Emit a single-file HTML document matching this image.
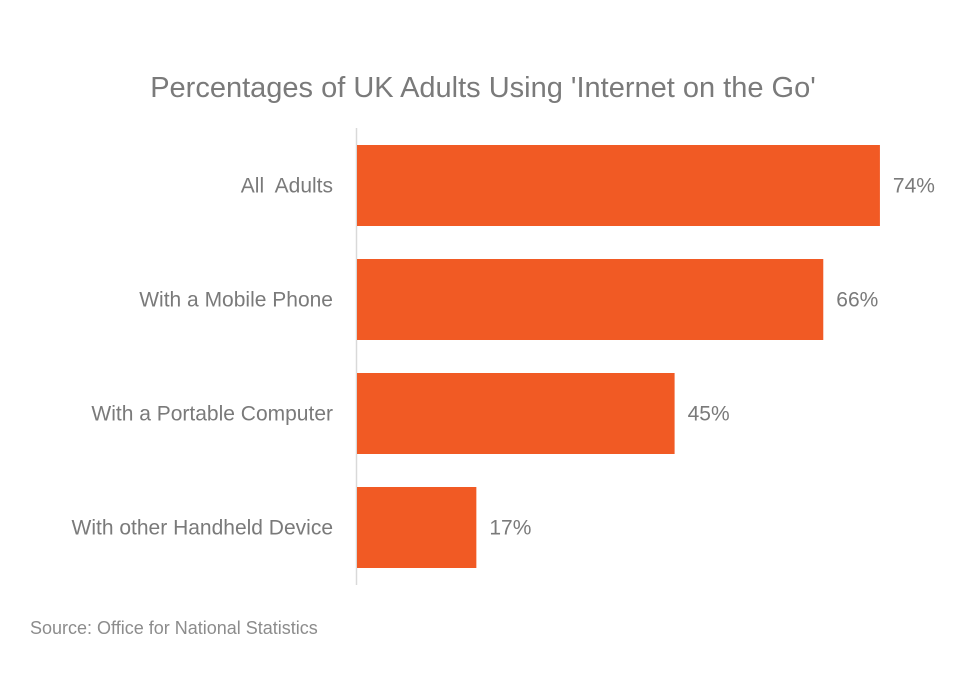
<!DOCTYPE html>
<html><head><meta charset="utf-8">
<style>
body{margin:0;background:#fff;}
svg text{font-family:"Liberation Sans",sans-serif;}
</style></head>
<body>
<svg id="chart" width="965" height="668" viewBox="0 0 965 668" xmlns="http://www.w3.org/2000/svg">
<rect width="965" height="668" fill="#fff"/>
<text x="483" y="97" text-anchor="middle" font-size="29" fill="#7a7a7a">Percentages of UK Adults Using 'Internet on the Go'</text>
<line x1="356.5" y1="128" x2="356.5" y2="585" stroke="#d9d9d9" stroke-width="1.5"/>
<g id="bars"></g>
<text x="30" y="634" font-size="18" fill="#8c8c8c">Source: Office for National Statistics</text>
</svg>
<script>
const categories = ["All  Adults", "With a Mobile Phone", "With a Portable Computer", "With other Handheld Device"];
const values = [74, 66, 45, 17];
const valueLabels = ["74%", "66%", "45%", "17%"];

const x0 = 356, pxPerPct = 7.08;
const xScale = v => x0 + v * pxPerPct;
const bandTop = 145, bandStep = 114, barH = 81;
const yScale = i => bandTop + i * bandStep;
const g = document.getElementById('bars');
const NS = "http://www.w3.org/2000/svg";
categories.forEach((c, i) => {
  const y = yScale(i);
  const r = document.createElementNS(NS, 'rect');
  
  
  r.setAttribute('x', x0 + 1);
  r.setAttribute('y', y);
  r.setAttribute('width', xScale(values[i]) - x0 - 1);
  r.setAttribute('height', barH);
  r.setAttribute('fill', '#f15a24');
  g.appendChild(r);
  const t = document.createElementNS(NS, 'text');
  
  
  t.setAttribute('x', 333);
  t.setAttribute('y', y + barH / 2 + 7);
  t.setAttribute('text-anchor', 'end');
  t.setAttribute('font-size', '21');
  t.setAttribute('fill', '#7a7a7a');
  t.setAttribute('xml:space', 'preserve');
  t.style.whiteSpace = 'pre';
  t.textContent = c;
  g.appendChild(t);
  const v = document.createElementNS(NS, 'text');
  
  
  v.setAttribute('x', xScale(values[i]) + 13);
  v.setAttribute('y', y + barH / 2 + 7);
  v.setAttribute('font-size', '21');
  v.setAttribute('fill', '#7a7a7a');
  v.textContent = valueLabels[i];
  g.appendChild(v);
});
</script>
</body></html>
